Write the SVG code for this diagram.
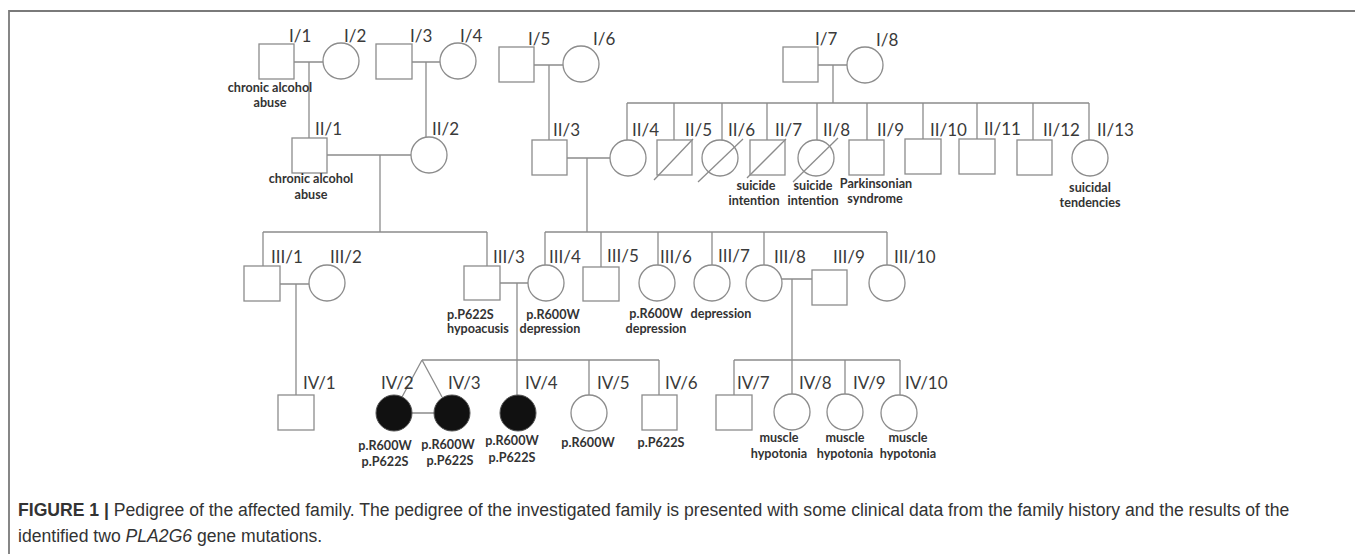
<svg xmlns="http://www.w3.org/2000/svg" width="1355" height="554" viewBox="0 0 1355 554">
<style>
.s{fill:#fff;stroke:#8c8c8c;stroke-width:1.3}
.a{fill:#111;stroke:#555;stroke-width:1}
.l{fill:none;stroke:#8c8c8c;stroke-width:1.3}
.id{font-family:Lato,"Open Sans",sans-serif;font-size:17px;fill:#3a3a3a}
.n{font-family:Lato,"Open Sans",sans-serif;font-size:12.6px;font-weight:bold;fill:#333;text-anchor:middle}
.c{font-family:"Liberation Sans",Arial,sans-serif;font-size:17.6px;fill:#333}
</style>
<rect width="1355" height="554" fill="#fff"/>
<path d="M9 554V11H1355" fill="none" stroke="#7a7a7a" stroke-width="1.8"/>
<g id="connectors" class="l">
<path d="M294 62H323M309 62V138"/>
<path d="M412 62H440M426 62V137"/>
<path d="M534 65H563M549 65V140"/>
<path d="M818 65H847M833 65V103"/>
<path d="M627 103H1089M627 103V140M674 103V140M722 103V140M767 103V140M817 103V140M867 103V140M923 103V139M977 103V139M1033 103V140M1089 103V140"/>
<path d="M327 155H411M380 155V232M263 232H487M263 232V266M487 232V266"/>
<path d="M567 158H610M587 158V232M545 232H887M545 232V265M601 232V267M658 232V265M712 232V265M764 232V265M887 232V265"/>
<path d="M280 284H309M296 284V395"/>
<path d="M500 283H528M517 283V360M422 360H659M517 360V395M589 360V395M659 360V395"/>
<path d="M422 360L402 397M422 360L442 397M412 413H434"/>
<path d="M782 279H812M792 279V360M734 360H900M734 360V395M792 360V394M845 360V394M900 360V395"/>
</g>
<g id="I-1"><rect class="s" x="259" y="44" width="35" height="35"/><text class="id" x="289" y="42">I/1</text><text class="n" x="270" y="92">chronic alcohol</text><text class="n" x="270" y="107">abuse</text></g>
<g id="I-2"><circle class="s" cx="341" cy="61" r="18"/><text class="id" x="344" y="42">I/2</text></g>
<g id="I-3"><rect class="s" x="376" y="44" width="36" height="35"/><text class="id" x="410" y="42">I/3</text></g>
<g id="I-4"><circle class="s" cx="458" cy="61" r="18"/><text class="id" x="460" y="42">I/4</text></g>
<g id="I-5"><rect class="s" x="499" y="47" width="35" height="35"/><text class="id" x="528" y="45">I/5</text></g>
<g id="I-6"><circle class="s" cx="581" cy="64" r="18"/><text class="id" x="593" y="45">I/6</text></g>
<g id="I-7"><rect class="s" x="783" y="47" width="35" height="35"/><text class="id" x="815" y="45">I/7</text></g>
<g id="I-8"><circle class="s" cx="865" cy="65" r="18"/><text class="id" x="876" y="46">I/8</text></g>
<g id="II-1"><rect class="s" x="292" y="138" width="35" height="35"/><text class="id" x="315" y="135">II/1</text><text class="n" x="311" y="183">chronic alcohol</text><text class="n" x="311" y="199">abuse</text></g>
<g id="II-2"><circle class="s" cx="429" cy="155" r="18"/><text class="id" x="432" y="135">II/2</text></g>
<g id="II-3"><rect class="s" x="532" y="140" width="35" height="35"/><text class="id" x="553" y="136">II/3</text></g>
<g id="II-4"><circle class="s" cx="628" cy="158" r="18"/><text class="id" x="632" y="136">II/4</text></g>
<g id="II-5"><rect class="s" x="657" y="140" width="35" height="35"/><path class="l" d="M654 180L693 139"/><text class="id" x="685" y="136">II/5</text></g>
<g id="II-6"><circle class="s" cx="720" cy="158" r="18"/><path class="l" d="M698 182L743 139"/><text class="id" x="728" y="136">II/6</text></g>
<g id="II-7"><rect class="s" x="750" y="140" width="35" height="35"/><path class="l" d="M747 178L786 139"/><text class="id" x="775" y="136">II/7</text><text class="n" x="756" y="190">suicide</text><text class="n" x="754" y="205">intention</text></g>
<g id="II-8"><circle class="s" cx="816" cy="158" r="18"/><path class="l" d="M793 182L838 138"/><text class="id" x="823" y="136">II/8</text><text class="n" x="813" y="190">suicide</text><text class="n" x="813" y="205">intention</text></g>
<g id="II-9"><rect class="s" x="849" y="140" width="35" height="35"/><text class="id" x="877" y="136">II/9</text><text class="n" x="876" y="188">Parkinsonian</text><text class="n" x="875" y="203">syndrome</text></g>
<g id="II-10"><rect class="s" x="905" y="139" width="36" height="35"/><text class="id" x="930" y="136">II/10</text></g>
<g id="II-11"><rect class="s" x="959" y="139" width="36" height="35"/><text class="id" x="984" y="135">II/11</text></g>
<g id="II-12"><rect class="s" x="1017" y="140" width="35" height="35"/><text class="id" x="1043" y="136">II/12</text></g>
<g id="II-13"><circle class="s" cx="1090" cy="158" r="18"/><text class="id" x="1097" y="136">II/13</text><text class="n" x="1090" y="192">suicidal</text><text class="n" x="1090" y="207">tendencies</text></g>
<g id="III-1"><rect class="s" x="244" y="266" width="36" height="35"/><text class="id" x="271" y="263">III/1</text></g>
<g id="III-2"><circle class="s" cx="327" cy="283" r="18"/><text class="id" x="330" y="263">III/2</text></g>
<g id="III-3"><rect class="s" x="464" y="266" width="36" height="34"/><text class="id" x="493" y="263">III/3</text><text class="n" x="447" y="319" style="text-anchor:start">p.P622S</text><text class="n" x="447" y="333" style="text-anchor:start">hypoacusis</text></g>
<g id="III-4"><circle class="s" cx="546" cy="283" r="18"/><text class="id" x="549" y="263">III/4</text><text class="n" x="553" y="319">p.R600W</text><text class="n" x="550" y="333">depression</text></g>
<g id="III-5"><rect class="s" x="583" y="267" width="36" height="34"/><text class="id" x="607" y="262">III/5</text></g>
<g id="III-6"><circle class="s" cx="657" cy="283" r="18"/><text class="id" x="660" y="263">III/6</text><text class="n" x="656" y="318">p.R600W</text><text class="n" x="656" y="333">depression</text></g>
<g id="III-7"><circle class="s" cx="712" cy="283" r="18"/><text class="id" x="718" y="262">III/7</text><text class="n" x="721" y="318">depression</text></g>
<g id="III-8"><circle class="s" cx="764" cy="283" r="18"/><text class="id" x="774" y="263">III/8</text></g>
<g id="III-9"><rect class="s" x="812" y="270" width="35" height="35"/><text class="id" x="833" y="263">III/9</text></g>
<g id="III-10"><circle class="s" cx="887" cy="283" r="18"/><text class="id" x="894" y="263">III/10</text></g>
<g id="IV-1"><rect class="s" x="278" y="395" width="36" height="35"/><text class="id" x="303" y="389">IV/1</text></g>
<g id="IV-2"><circle class="a" cx="394" cy="413" r="18"/><text class="id" x="381" y="389">IV/2</text><text class="n" x="385" y="450">p.R600W</text><text class="n" x="385" y="466">p.P622S</text></g>
<g id="IV-3"><circle class="a" cx="452" cy="413" r="18"/><text class="id" x="448" y="389">IV/3</text><text class="n" x="448" y="449">p.R600W</text><text class="n" x="450" y="465">p.P622S</text></g>
<g id="IV-4"><circle class="a" cx="518" cy="413" r="18"/><text class="id" x="525" y="389">IV/4</text><text class="n" x="512" y="445">p.R600W</text><text class="n" x="512" y="462">p.P622S</text></g>
<g id="IV-5"><circle class="s" cx="589" cy="413" r="18"/><text class="id" x="597" y="389">IV/5</text><text class="n" x="588" y="447">p.R600W</text></g>
<g id="IV-6"><rect class="s" x="642" y="395" width="35" height="35"/><text class="id" x="665" y="389">IV/6</text><text class="n" x="661" y="447">p.P622S</text></g>
<g id="IV-7"><rect class="s" x="716" y="395" width="36" height="35"/><text class="id" x="737" y="389">IV/7</text></g>
<g id="IV-8"><circle class="s" cx="792" cy="412" r="18"/><text class="id" x="799" y="389">IV/8</text><text class="n" x="779" y="442">muscle</text><text class="n" x="779" y="458">hypotonia</text></g>
<g id="IV-9"><circle class="s" cx="845" cy="412" r="18"/><text class="id" x="853" y="389">IV/9</text><text class="n" x="845" y="442">muscle</text><text class="n" x="845" y="458">hypotonia</text></g>
<g id="IV-10"><circle class="s" cx="899" cy="413" r="18"/><text class="id" x="905" y="389">IV/10</text><text class="n" x="908" y="442">muscle</text><text class="n" x="908" y="458">hypotonia</text></g>
<text class="c" x="18" y="516"><tspan font-weight="bold">FIGURE 1 |</tspan> Pedigree of the affected family. The pedigree of the investigated family is presented with some clinical data from the family history and the results of the</text>
<text class="c" x="18" y="542">identified two <tspan font-style="italic">PLA2G6</tspan> gene mutations.</text>
</svg>
